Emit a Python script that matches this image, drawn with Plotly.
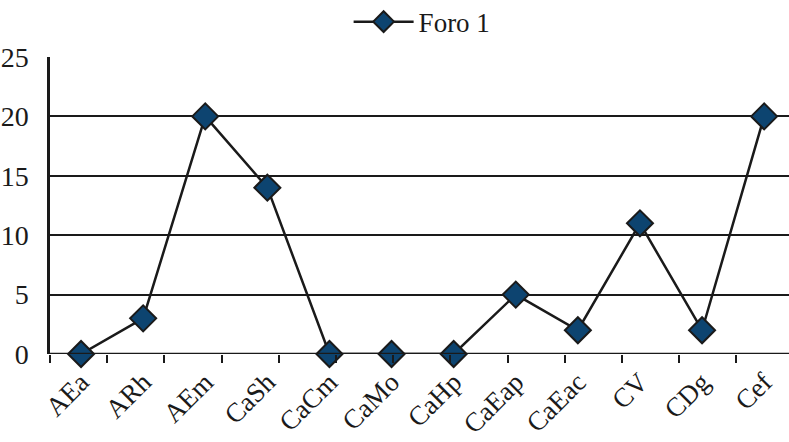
import plotly.graph_objects as go

categories = ["AEa", "ARh", "AEm", "CaSh", "CaCm", "CaMo", "CaHp",
              "CaEap", "CaEac", "CV", "CDg", "Cef"]
foro1 = [0, 3, 20, 14, 0, 0, 0, 5, 2, 11, 2, 20]
y_ticks = [0, 5, 10, 15, 20, 25]

FONT = "Liberation Serif"
INK = "#1a1a1a"

fig = go.Figure()
fig.add_trace(go.Scatter(
    x=list(range(len(categories))), y=foro1,
    mode="lines+markers", name="Foro 1",
    line=dict(color=INK, width=2.5),
    marker=dict(symbol="diamond", size=20, color="#0d4470",
                line=dict(color=INK, width=2)),
    cliponaxis=False,
))

# secondary axis carrying only the small tick marks along the baseline
fig.add_trace(go.Scatter(x=[0], y=[0], xaxis="x2", mode="markers",
                         marker=dict(opacity=0), showlegend=False,
                         hoverinfo="skip"))

fig.update_layout(
    width=789, height=442,
    margin=dict(l=50, r=0, t=57, b=88, autoexpand=False),
    paper_bgcolor="white", plot_bgcolor="white",
    font=dict(family=FONT, size=26, color=INK),
    showlegend=True,
    legend=dict(orientation="h", x=0.535, xanchor="center",
                xref="container", yref="container", y=0.95,
                yanchor="middle", font=dict(size=27, family=FONT),
                bgcolor="rgba(0,0,0,0)", itemwidth=60),
    xaxis=dict(range=[-0.5, 11.4], tickvals=list(range(len(categories))),
               ticktext=categories, tickangle=-45, ticks="",
               showgrid=False, zeroline=False, showline=False,
               automargin=False, ticklabelstandoff=6,
               tickfont=dict(size=27, family=FONT)),
    xaxis2=dict(overlaying="x", range=[0, 12.92], tick0=0, dtick=1,
                ticks="outside", ticklen=8, tickwidth=2, tickcolor=INK,
                showticklabels=False, showgrid=False, zeroline=False,
                showline=False, side="bottom", automargin=False),
    yaxis=dict(range=[0, 25], tickvals=y_ticks, showgrid=True,
               gridcolor=INK, gridwidth=2, zeroline=False,
               showline=True, linecolor=INK, linewidth=2.5,
               mirror=False, ticks="", ticklabelstandoff=13,
               automargin=False,
               tickfont=dict(size=28, family=FONT)),
)

# baseline at y = 0
fig.add_shape(type="line", xref="paper", yref="y", x0=0, x1=1, y0=0, y1=0,
              line=dict(color=INK, width=2.5))

fig.write_html("out.html")
